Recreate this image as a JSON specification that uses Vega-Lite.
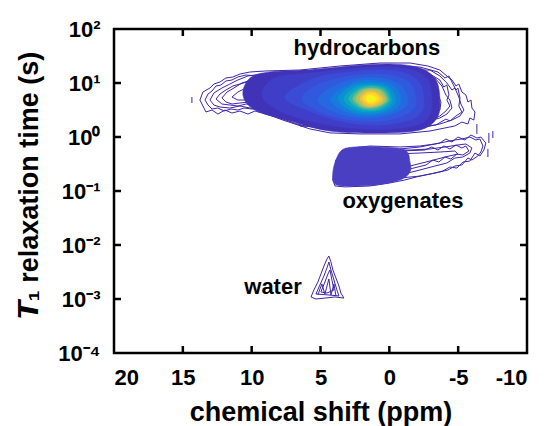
{
  "$schema": "https://vega.github.io/schema/vega-lite/v6.json",
  "width": 413,
  "height": 324,
  "autosize": {"type": "none"},
  "padding": {"left": 114, "top": 29, "right": 17, "bottom": 73},
  "background": "white",
  "datasets": {
    "fills": [
      {"g":"h01","lev":1,"k":0,"ppm":-3.67,"t1":4.84},{"g":"h01","lev":1,"k":1,"ppm":-3.38,"t1":11.37},{"g":"h01","lev":1,"k":2,"ppm":-2.22,"t1":18.95},{"g":"h01","lev":1,"k":3,"ppm":-0.04,"t1":22.48},{"g":"h01","lev":1,"k":4,"ppm":2.86,"t1":20.64},{"g":"h01","lev":1,"k":5,"ppm":5.77,"t1":17.4},{"g":"h01","lev":1,"k":6,"ppm":8.67,"t1":15.98},{"g":"h01","lev":1,"k":7,"ppm":10.12,"t1":12.38},{"g":"h01","lev":1,"k":8,"ppm":10.63,"t1":5.99},{"g":"h01","lev":1,"k":9,"ppm":9.76,"t1":3.16},{"g":"h01","lev":1,"k":10,"ppm":7.22,"t1":1.98},{"g":"h01","lev":1,"k":11,"ppm":4.31,"t1":1.29},{"g":"h01","lev":1,"k":12,"ppm":0.68,"t1":1.19},{"g":"h01","lev":1,"k":13,"ppm":-2.22,"t1":1.35},{"g":"h01","lev":1,"k":14,"ppm":-3.46,"t1":2.25},
      {"g":"h02","lev":2,"k":0,"ppm":-3.09,"t1":4.84},{"g":"h02","lev":2,"k":1,"ppm":-2.8,"t1":11.37},{"g":"h02","lev":2,"k":2,"ppm":-1.64,"t1":17.4},{"g":"h02","lev":2,"k":3,"ppm":0.32,"t1":19.78},{"g":"h02","lev":2,"k":4,"ppm":2.86,"t1":18.16},{"g":"h02","lev":2,"k":5,"ppm":5.77,"t1":15.31},{"g":"h02","lev":2,"k":6,"ppm":8.31,"t1":12.38},{"g":"h02","lev":2,"k":7,"ppm":9.25,"t1":5.99},{"g":"h02","lev":2,"k":8,"ppm":8.09,"t1":3.16},{"g":"h02","lev":2,"k":9,"ppm":5.77,"t1":1.98},{"g":"h02","lev":2,"k":10,"ppm":2.86,"t1":1.47},{"g":"h02","lev":2,"k":11,"ppm":-0.04,"t1":1.41},{"g":"h02","lev":2,"k":12,"ppm":-2.22,"t1":1.74},{"g":"h02","lev":2,"k":13,"ppm":-2.95,"t1":2.66},
      {"g":"h03","lev":3,"k":0,"ppm":-2.51,"t1":4.84},{"g":"h03","lev":3,"k":1,"ppm":-2.22,"t1":10.0},{"g":"h03","lev":3,"k":2,"ppm":-1.13,"t1":15.31},{"g":"h03","lev":3,"k":3,"ppm":0.68,"t1":17.4},{"g":"h03","lev":3,"k":4,"ppm":2.86,"t1":15.98},{"g":"h03","lev":3,"k":5,"ppm":5.4,"t1":12.38},{"g":"h03","lev":3,"k":6,"ppm":7.58,"t1":5.5},{"g":"h03","lev":3,"k":7,"ppm":5.62,"t1":2.9},{"g":"h03","lev":3,"k":8,"ppm":3.23,"t1":1.89},{"g":"h03","lev":3,"k":9,"ppm":0.68,"t1":1.67},{"g":"h03","lev":3,"k":10,"ppm":-1.5,"t1":2.06},{"g":"h03","lev":3,"k":11,"ppm":-2.37,"t1":3.03},
      {"g":"h04","lev":4,"k":0,"ppm":-1.93,"t1":4.84},{"g":"h04","lev":4,"k":1,"ppm":-1.57,"t1":9.58},{"g":"h04","lev":4,"k":2,"ppm":-0.41,"t1":13.48},{"g":"h04","lev":4,"k":3,"ppm":1.41,"t1":14.67},{"g":"h04","lev":4,"k":4,"ppm":3.59,"t1":12.38},{"g":"h04","lev":4,"k":5,"ppm":5.4,"t1":8.8},{"g":"h04","lev":4,"k":6,"ppm":6.35,"t1":5.05},{"g":"h04","lev":4,"k":7,"ppm":5.04,"t1":2.9},{"g":"h04","lev":4,"k":8,"ppm":2.86,"t1":2.06},{"g":"h04","lev":4,"k":9,"ppm":0.47,"t1":1.98},{"g":"h04","lev":4,"k":10,"ppm":-1.13,"t1":2.55},{"g":"h04","lev":4,"k":11,"ppm":-1.79,"t1":3.44},
      {"g":"h05","lev":5,"k":0,"ppm":-1.35,"t1":4.84},{"g":"h05","lev":5,"k":1,"ppm":-0.91,"t1":8.8},{"g":"h05","lev":5,"k":2,"ppm":0.32,"t1":11.86},{"g":"h05","lev":5,"k":3,"ppm":1.99,"t1":12.38},{"g":"h05","lev":5,"k":4,"ppm":3.73,"t1":9.58},{"g":"h05","lev":5,"k":5,"ppm":5.19,"t1":4.84},{"g":"h05","lev":5,"k":6,"ppm":3.59,"t1":2.66},{"g":"h05","lev":5,"k":7,"ppm":1.41,"t1":2.25},{"g":"h05","lev":5,"k":8,"ppm":-0.41,"t1":2.78},{"g":"h05","lev":5,"k":9,"ppm":-1.13,"t1":3.59},
      {"g":"h06","lev":6,"k":0,"ppm":-0.84,"t1":5.05},{"g":"h06","lev":6,"k":1,"ppm":-0.33,"t1":8.8},{"g":"h06","lev":6,"k":2,"ppm":0.83,"t1":10.89},{"g":"h06","lev":6,"k":3,"ppm":2.5,"t1":10.44},{"g":"h06","lev":6,"k":4,"ppm":4.31,"t1":5.05},{"g":"h06","lev":6,"k":5,"ppm":2.72,"t1":2.66},{"g":"h06","lev":6,"k":6,"ppm":0.83,"t1":2.55},{"g":"h06","lev":6,"k":7,"ppm":-0.48,"t1":3.3},
      {"g":"h07","lev":7,"k":0,"ppm":-0.48,"t1":5.05},{"g":"h07","lev":7,"k":1,"ppm":0.03,"t1":8.43},{"g":"h07","lev":7,"k":2,"ppm":1.19,"t1":10.0},{"g":"h07","lev":7,"k":3,"ppm":2.72,"t1":8.8},{"g":"h07","lev":7,"k":4,"ppm":3.73,"t1":5.05},{"g":"h07","lev":7,"k":5,"ppm":2.57,"t1":2.9},{"g":"h07","lev":7,"k":6,"ppm":0.83,"t1":2.78},{"g":"h07","lev":7,"k":7,"ppm":-0.19,"t1":3.59},
      {"g":"h08","lev":8,"k":0,"ppm":-0.19,"t1":5.05},{"g":"h08","lev":8,"k":1,"ppm":0.25,"t1":8.08},{"g":"h08","lev":8,"k":2,"ppm":1.34,"t1":9.18},{"g":"h08","lev":8,"k":3,"ppm":2.5,"t1":8.08},{"g":"h08","lev":8,"k":4,"ppm":3.3,"t1":5.05},{"g":"h08","lev":8,"k":5,"ppm":2.35,"t1":3.16},{"g":"h08","lev":8,"k":6,"ppm":0.97,"t1":3.03},{"g":"h08","lev":8,"k":7,"ppm":0.03,"t1":3.75},
      {"g":"h09","lev":9,"k":0,"ppm":-0.04,"t1":5.05},{"g":"h09","lev":9,"k":1,"ppm":0.39,"t1":7.74},{"g":"h09","lev":9,"k":2,"ppm":1.41,"t1":8.8},{"g":"h09","lev":9,"k":3,"ppm":2.35,"t1":7.42},{"g":"h09","lev":9,"k":4,"ppm":2.94,"t1":5.05},{"g":"h09","lev":9,"k":5,"ppm":2.21,"t1":3.44},{"g":"h09","lev":9,"k":6,"ppm":1.04,"t1":3.16},{"g":"h09","lev":9,"k":7,"ppm":0.25,"t1":3.91},
      {"g":"h10","lev":10,"k":0,"ppm":0.1,"t1":5.05},{"g":"h10","lev":10,"k":1,"ppm":0.54,"t1":7.42},{"g":"h10","lev":10,"k":2,"ppm":1.41,"t1":8.08},{"g":"h10","lev":10,"k":3,"ppm":2.21,"t1":7.11},{"g":"h10","lev":10,"k":4,"ppm":2.64,"t1":5.05},{"g":"h10","lev":10,"k":5,"ppm":2.06,"t1":3.59},{"g":"h10","lev":10,"k":6,"ppm":1.12,"t1":3.44},{"g":"h10","lev":10,"k":7,"ppm":0.39,"t1":4.08},
      {"g":"h11","lev":11,"k":0,"ppm":0.25,"t1":5.05},{"g":"h11","lev":11,"k":1,"ppm":0.68,"t1":7.11},{"g":"h11","lev":11,"k":2,"ppm":1.41,"t1":7.74},{"g":"h11","lev":11,"k":3,"ppm":2.06,"t1":6.81},{"g":"h11","lev":11,"k":4,"ppm":2.43,"t1":5.05},{"g":"h11","lev":11,"k":5,"ppm":1.92,"t1":3.75},{"g":"h11","lev":11,"k":6,"ppm":1.19,"t1":3.59},{"g":"h11","lev":11,"k":7,"ppm":0.54,"t1":4.08},
      {"g":"h12","lev":12,"k":0,"ppm":0.47,"t1":5.05},{"g":"h12","lev":12,"k":1,"ppm":0.83,"t1":6.53},{"g":"h12","lev":12,"k":2,"ppm":1.41,"t1":7.11},{"g":"h12","lev":12,"k":3,"ppm":1.92,"t1":6.26},{"g":"h12","lev":12,"k":4,"ppm":2.14,"t1":5.05},{"g":"h12","lev":12,"k":5,"ppm":1.77,"t1":3.91},{"g":"h12","lev":12,"k":6,"ppm":1.26,"t1":3.75},{"g":"h12","lev":12,"k":7,"ppm":0.68,"t1":4.26},
      {"g":"h13","lev":13,"k":0,"ppm":0.68,"t1":5.05},{"g":"h13","lev":13,"k":1,"ppm":0.97,"t1":6.26},{"g":"h13","lev":13,"k":2,"ppm":1.41,"t1":6.53},{"g":"h13","lev":13,"k":3,"ppm":1.77,"t1":5.99},{"g":"h13","lev":13,"k":4,"ppm":1.92,"t1":5.05},{"g":"h13","lev":13,"k":5,"ppm":1.63,"t1":4.26},{"g":"h13","lev":13,"k":6,"ppm":1.26,"t1":4.08},{"g":"h13","lev":13,"k":7,"ppm":0.9,"t1":4.45},
      {"g":"h14","lev":14,"k":0,"ppm":0.9,"t1":5.05},{"g":"h14","lev":14,"k":1,"ppm":1.12,"t1":5.74},{"g":"h14","lev":14,"k":2,"ppm":1.41,"t1":5.99},{"g":"h14","lev":14,"k":3,"ppm":1.63,"t1":5.74},{"g":"h14","lev":14,"k":4,"ppm":1.7,"t1":5.05},{"g":"h14","lev":14,"k":5,"ppm":1.56,"t1":4.45},{"g":"h14","lev":14,"k":6,"ppm":1.34,"t1":4.45},{"g":"h14","lev":14,"k":7,"ppm":1.04,"t1":4.64},
      {"g":"o01","lev":0,"k":0,"ppm":-1.5,"t1":0.344},{"g":"o01","lev":0,"k":1,"ppm":-1.13,"t1":0.574},{"g":"o01","lev":0,"k":2,"ppm":0.68,"t1":0.653},{"g":"o01","lev":0,"k":3,"ppm":2.5,"t1":0.653},{"g":"o01","lev":0,"k":4,"ppm":3.44,"t1":0.574},{"g":"o01","lev":0,"k":5,"ppm":3.88,"t1":0.375},{"g":"o01","lev":0,"k":6,"ppm":4.1,"t1":0.225},{"g":"o01","lev":0,"k":7,"ppm":4.02,"t1":0.141},{"g":"o01","lev":0,"k":8,"ppm":3.23,"t1":0.124},{"g":"o01","lev":0,"k":9,"ppm":1.04,"t1":0.129},{"g":"o01","lev":0,"k":10,"ppm":-0.77,"t1":0.16},{"g":"o01","lev":0,"k":11,"ppm":-1.5,"t1":0.225}
    ],
    "lines": [
      {"g":"r1","k":0,"ppm":13.76,"t1":4.84},{"g":"r1","k":1,"ppm":13.54,"t1":6.81},{"g":"r1","k":2,"ppm":13.03,"t1":8.08},{"g":"r1","k":3,"ppm":12.74,"t1":9.58},{"g":"r1","k":4,"ppm":12.3,"t1":10.44},{"g":"r1","k":5,"ppm":11.87,"t1":12.38},{"g":"r1","k":6,"ppm":11.36,"t1":12.92},{"g":"r1","k":7,"ppm":10.85,"t1":14.67},{"g":"r1","k":8,"ppm":10.12,"t1":15.98},{"g":"r1","k":9,"ppm":9.04,"t1":16.68},{"g":"r1","k":10,"ppm":6.49,"t1":17.4},{"g":"r1","k":11,"ppm":3.59,"t1":20.64},{"g":"r1","k":12,"ppm":0.68,"t1":23.46},{"g":"r1","k":13,"ppm":-1.5,"t1":23.46},{"g":"r1","k":14,"ppm":-2.8,"t1":20.64},{"g":"r1","k":15,"ppm":-3.67,"t1":17.4},{"g":"r1","k":16,"ppm":-4.18,"t1":13.48},{"g":"r1","k":17,"ppm":-4.55,"t1":11.37},{"g":"r1","k":18,"ppm":-4.84,"t1":8.8},{"g":"r1","k":19,"ppm":-5.05,"t1":9.58},{"g":"r1","k":20,"ppm":-5.27,"t1":6.81},{"g":"r1","k":21,"ppm":-5.56,"t1":5.99},{"g":"r1","k":22,"ppm":-5.71,"t1":4.45},{"g":"r1","k":23,"ppm":-5.93,"t1":4.84},{"g":"r1","k":24,"ppm":-6.0,"t1":3.44},{"g":"r1","k":25,"ppm":-6.22,"t1":2.9},{"g":"r1","k":26,"ppm":-6.14,"t1":2.06},{"g":"r1","k":27,"ppm":-5.85,"t1":2.25},{"g":"r1","k":28,"ppm":-5.71,"t1":1.74},{"g":"r1","k":29,"ppm":-5.27,"t1":1.89},{"g":"r1","k":30,"ppm":-4.76,"t1":1.6},{"g":"r1","k":31,"ppm":-4.04,"t1":1.47},{"g":"r1","k":32,"ppm":-2.95,"t1":1.29},{"g":"r1","k":33,"ppm":-0.77,"t1":1.14},{"g":"r1","k":34,"ppm":2.14,"t1":1.14},{"g":"r1","k":35,"ppm":4.31,"t1":1.19},{"g":"r1","k":36,"ppm":5.77,"t1":1.41},{"g":"r1","k":37,"ppm":6.86,"t1":1.74},{"g":"r1","k":38,"ppm":7.73,"t1":2.06},{"g":"r1","k":39,"ppm":8.53,"t1":2.45},{"g":"r1","k":40,"ppm":9.25,"t1":2.78},{"g":"r1","k":41,"ppm":9.76,"t1":3.03},{"g":"r1","k":42,"ppm":10.27,"t1":2.66},{"g":"r1","k":43,"ppm":10.85,"t1":3.03},{"g":"r1","k":44,"ppm":11.43,"t1":2.78},{"g":"r1","k":45,"ppm":11.94,"t1":3.16},{"g":"r1","k":46,"ppm":12.45,"t1":2.66},{"g":"r1","k":47,"ppm":12.88,"t1":3.16},{"g":"r1","k":48,"ppm":13.32,"t1":2.9},{"g":"r1","k":49,"ppm":13.54,"t1":3.75},{"g":"r1","k":50,"ppm":13.76,"t1":4.84},
      {"g":"r2","k":0,"ppm":13.03,"t1":4.84},{"g":"r2","k":1,"ppm":12.74,"t1":6.53},{"g":"r2","k":2,"ppm":12.16,"t1":8.08},{"g":"r2","k":3,"ppm":11.58,"t1":9.58},{"g":"r2","k":4,"ppm":11.0,"t1":11.37},{"g":"r2","k":5,"ppm":10.27,"t1":13.48},{"g":"r2","k":6,"ppm":9.25,"t1":14.67},{"g":"r2","k":7,"ppm":6.49,"t1":15.98},{"g":"r2","k":8,"ppm":-2.95,"t1":17.4},{"g":"r2","k":9,"ppm":-3.67,"t1":13.48},{"g":"r2","k":10,"ppm":-4.18,"t1":10.0},{"g":"r2","k":11,"ppm":-4.55,"t1":7.42},{"g":"r2","k":12,"ppm":-4.76,"t1":8.08},{"g":"r2","k":13,"ppm":-5.05,"t1":5.5},{"g":"r2","k":14,"ppm":-5.2,"t1":4.08},{"g":"r2","k":15,"ppm":-5.42,"t1":3.16},{"g":"r2","k":16,"ppm":-5.13,"t1":2.45},{"g":"r2","k":17,"ppm":-4.55,"t1":2.06},{"g":"r2","k":18,"ppm":-3.67,"t1":1.74},{"g":"r2","k":19,"ppm":-2.22,"t1":1.47},{"g":"r2","k":20,"ppm":0.68,"t1":1.29},{"g":"r2","k":21,"ppm":4.31,"t1":1.35},{"g":"r2","k":22,"ppm":6.49,"t1":1.67},{"g":"r2","k":23,"ppm":7.95,"t1":2.25},{"g":"r2","k":24,"ppm":9.25,"t1":3.16},{"g":"r2","k":25,"ppm":10.12,"t1":3.44},{"g":"r2","k":26,"ppm":10.85,"t1":3.75},{"g":"r2","k":27,"ppm":11.58,"t1":3.44},{"g":"r2","k":28,"ppm":12.3,"t1":3.59},{"g":"r2","k":29,"ppm":12.74,"t1":3.91},{"g":"r2","k":30,"ppm":13.03,"t1":4.84},
      {"g":"r3","k":0,"ppm":12.16,"t1":5.27},{"g":"r3","k":1,"ppm":11.79,"t1":6.81},{"g":"r3","k":2,"ppm":11.29,"t1":8.08},{"g":"r3","k":3,"ppm":10.71,"t1":10.0},{"g":"r3","k":4,"ppm":9.98,"t1":11.37},{"g":"r3","k":5,"ppm":9.04,"t1":12.92},{"g":"r3","k":6,"ppm":-3.31,"t1":12.38},{"g":"r3","k":7,"ppm":-3.82,"t1":8.8},{"g":"r3","k":8,"ppm":-4.11,"t1":5.99},{"g":"r3","k":9,"ppm":-4.4,"t1":4.84},{"g":"r3","k":10,"ppm":-4.55,"t1":3.44},{"g":"r3","k":11,"ppm":-4.18,"t1":2.66},{"g":"r3","k":12,"ppm":-3.67,"t1":2.25},{"g":"r3","k":13,"ppm":-2.58,"t1":1.89},{"g":"r3","k":14,"ppm":9.25,"t1":4.08},{"g":"r3","k":15,"ppm":10.12,"t1":4.45},{"g":"r3","k":16,"ppm":10.85,"t1":4.26},{"g":"r3","k":17,"ppm":11.43,"t1":4.08},{"g":"r3","k":18,"ppm":11.87,"t1":4.45},{"g":"r3","k":19,"ppm":12.16,"t1":5.27},
      {"g":"r4","k":0,"ppm":11.43,"t1":5.5},{"g":"r4","k":1,"ppm":11.0,"t1":6.81},{"g":"r4","k":2,"ppm":10.41,"t1":8.08},{"g":"r4","k":3,"ppm":9.69,"t1":9.18},{"g":"r4","k":4,"ppm":8.67,"t1":10.44},{"g":"r4","k":5,"ppm":-3.09,"t1":8.8},{"g":"r4","k":6,"ppm":-3.53,"t1":6.26},{"g":"r4","k":7,"ppm":-3.75,"t1":4.45},{"g":"r4","k":8,"ppm":-3.67,"t1":3.16},{"g":"r4","k":9,"ppm":-3.24,"t1":2.55},{"g":"r4","k":10,"ppm":8.67,"t1":4.84},{"g":"r4","k":11,"ppm":9.76,"t1":5.05},{"g":"r4","k":12,"ppm":10.49,"t1":4.84},{"g":"r4","k":13,"ppm":11.0,"t1":4.84},{"g":"r4","k":14,"ppm":11.43,"t1":5.5},
      {"g":"r5","k":0,"ppm":6.49,"t1":16.68},{"g":"r5","k":1,"ppm":0.68,"t1":20.64},{"g":"r5","k":2,"ppm":-2.22,"t1":19.78},{"g":"r5","k":3,"ppm":-3.53,"t1":15.98},{"g":"r5","k":4,"ppm":-4.04,"t1":12.38},{"g":"r5","k":5,"ppm":-4.33,"t1":13.48},{"g":"r5","k":6,"ppm":-4.62,"t1":9.58},{"g":"r5","k":7,"ppm":-4.84,"t1":7.42},{"g":"r5","k":8,"ppm":-4.98,"t1":8.08},{"g":"r5","k":9,"ppm":-5.13,"t1":5.27},{"g":"r5","k":10,"ppm":-5.05,"t1":3.75},{"g":"r5","k":11,"ppm":-5.27,"t1":2.9},{"g":"r5","k":12,"ppm":-4.84,"t1":2.45},{"g":"r5","k":13,"ppm":-4.4,"t1":1.98},{"g":"r5","k":14,"ppm":-4.11,"t1":2.15},{"g":"r5","k":15,"ppm":-3.38,"t1":1.67},{"g":"r5","k":16,"ppm":-0.77,"t1":1.35},{"g":"r5","k":17,"ppm":6.49,"t1":1.6},{"g":"r5","k":18,"ppm":6.49,"t1":16.68},
      {"g":"r6","k":0,"ppm":6.49,"t1":14.67},{"g":"r6","k":1,"ppm":-2.95,"t1":14.67},{"g":"r6","k":2,"ppm":-3.67,"t1":11.37},{"g":"r6","k":3,"ppm":-3.96,"t1":8.43},{"g":"r6","k":4,"ppm":-4.18,"t1":9.18},{"g":"r6","k":5,"ppm":-4.33,"t1":5.99},{"g":"r6","k":6,"ppm":-4.18,"t1":4.84},{"g":"r6","k":7,"ppm":-4.4,"t1":3.75},{"g":"r6","k":8,"ppm":-4.11,"t1":3.03},{"g":"r6","k":9,"ppm":-3.67,"t1":2.45},{"g":"r6","k":10,"ppm":-3.09,"t1":2.06},{"g":"r6","k":11,"ppm":6.49,"t1":1.89},
      {"g":"r7","k":0,"ppm":13.39,"t1":4.84},{"g":"r7","k":1,"ppm":13.17,"t1":6.26},{"g":"r7","k":2,"ppm":12.88,"t1":7.11},{"g":"r7","k":3,"ppm":12.59,"t1":8.8},{"g":"r7","k":4,"ppm":12.23,"t1":9.18},{"g":"r7","k":5,"ppm":11.87,"t1":10.89},{"g":"r7","k":6,"ppm":11.43,"t1":11.37},{"g":"r7","k":7,"ppm":11.0,"t1":12.92},{"g":"r7","k":8,"ppm":10.41,"t1":14.07},{"g":"r7","k":9,"ppm":6.49,"t1":11.37},{"g":"r7","k":10,"ppm":6.49,"t1":3.44},{"g":"r7","k":11,"ppm":9.98,"t1":3.3},{"g":"r7","k":12,"ppm":10.56,"t1":3.44},{"g":"r7","k":13,"ppm":11.0,"t1":3.16},{"g":"r7","k":14,"ppm":11.5,"t1":3.3},{"g":"r7","k":15,"ppm":12.01,"t1":3.03},{"g":"r7","k":16,"ppm":12.45,"t1":3.44},{"g":"r7","k":17,"ppm":12.88,"t1":3.3},{"g":"r7","k":18,"ppm":13.17,"t1":3.91},{"g":"r7","k":19,"ppm":13.39,"t1":4.84},
      {"g":"r8","k":0,"ppm":12.59,"t1":5.05},{"g":"r8","k":1,"ppm":12.3,"t1":6.26},{"g":"r8","k":2,"ppm":11.87,"t1":7.42},{"g":"r8","k":3,"ppm":11.36,"t1":8.8},{"g":"r8","k":4,"ppm":10.85,"t1":9.58},{"g":"r8","k":5,"ppm":10.12,"t1":10.89},{"g":"r8","k":6,"ppm":6.49,"t1":9.18},{"g":"r8","k":7,"ppm":6.49,"t1":4.08},{"g":"r8","k":8,"ppm":9.76,"t1":3.91},{"g":"r8","k":9,"ppm":10.41,"t1":4.08},{"g":"r8","k":10,"ppm":11.0,"t1":3.75},{"g":"r8","k":11,"ppm":11.58,"t1":3.91},{"g":"r8","k":12,"ppm":12.16,"t1":4.08},{"g":"r8","k":13,"ppm":12.59,"t1":5.05},
      {"g":"d1","k":0,"ppm":14.34,"t1":5.5},{"g":"d1","k":1,"ppm":14.34,"t1":4.26},
      {"g":"d3","k":0,"ppm":-6.36,"t1":1.74},{"g":"d3","k":1,"ppm":-6.36,"t1":1.14},
      {"g":"d4","k":0,"ppm":-7.23,"t1":1.19},{"g":"d4","k":1,"ppm":-7.23,"t1":0.774},
      {"g":"d5","k":0,"ppm":-7.52,"t1":1.29},{"g":"d5","k":1,"ppm":-7.52,"t1":0.957},
      {"g":"d6","k":0,"ppm":-7.16,"t1":0.6},{"g":"d6","k":1,"ppm":-7.16,"t1":0.426},
      {"g":"o1","k":0,"ppm":4.1,"t1":0.16},{"g":"o1","k":1,"ppm":3.88,"t1":0.375},{"g":"o1","k":2,"ppm":3.23,"t1":0.6},{"g":"o1","k":3,"ppm":1.41,"t1":0.681},{"g":"o1","k":4,"ppm":-0.77,"t1":0.653},{"g":"o1","k":5,"ppm":-2.22,"t1":0.681},{"g":"o1","k":6,"ppm":-3.31,"t1":0.742},{"g":"o1","k":7,"ppm":-4.04,"t1":0.808},{"g":"o1","k":8,"ppm":-4.76,"t1":0.88},{"g":"o1","k":9,"ppm":-5.27,"t1":0.918},{"g":"o1","k":10,"ppm":-5.85,"t1":0.998},{"g":"o1","k":11,"ppm":-6.29,"t1":0.88},{"g":"o1","k":12,"ppm":-6.58,"t1":0.918},{"g":"o1","k":13,"ppm":-6.8,"t1":0.681},{"g":"o1","k":14,"ppm":-6.65,"t1":0.527},{"g":"o1","k":15,"ppm":-6.43,"t1":0.445},{"g":"o1","k":16,"ppm":-6.0,"t1":0.375},{"g":"o1","k":17,"ppm":-5.71,"t1":0.408},{"g":"o1","k":18,"ppm":-5.27,"t1":0.303},{"g":"o1","k":19,"ppm":-4.76,"t1":0.29},{"g":"o1","k":20,"ppm":-4.26,"t1":0.245},{"g":"o1","k":21,"ppm":-3.67,"t1":0.225},{"g":"o1","k":22,"ppm":-2.95,"t1":0.206},{"g":"o1","k":23,"ppm":-2.22,"t1":0.189},{"g":"o1","k":24,"ppm":-1.13,"t1":0.16},{"g":"o1","k":25,"ppm":-0.04,"t1":0.141},{"g":"o1","k":26,"ppm":1.41,"t1":0.124},{"g":"o1","k":27,"ppm":3.23,"t1":0.119},{"g":"o1","k":28,"ppm":3.95,"t1":0.124},{"g":"o1","k":29,"ppm":4.1,"t1":0.16},
      {"g":"o2","k":0,"ppm":3.23,"t1":0.245},{"g":"o2","k":1,"ppm":2.86,"t1":0.464},{"g":"o2","k":2,"ppm":0.68,"t1":0.574},{"g":"o2","k":3,"ppm":-1.5,"t1":0.574},{"g":"o2","k":4,"ppm":-2.95,"t1":0.6},{"g":"o2","k":5,"ppm":-4.04,"t1":0.653},{"g":"o2","k":6,"ppm":-4.98,"t1":0.711},{"g":"o2","k":7,"ppm":-5.56,"t1":0.742},{"g":"o2","k":8,"ppm":-6.0,"t1":0.626},{"g":"o2","k":9,"ppm":-5.85,"t1":0.505},{"g":"o2","k":10,"ppm":-5.34,"t1":0.426},{"g":"o2","k":11,"ppm":-4.76,"t1":0.408},{"g":"o2","k":12,"ppm":-4.18,"t1":0.33},{"g":"o2","k":13,"ppm":-3.31,"t1":0.29},{"g":"o2","k":14,"ppm":-2.22,"t1":0.245},{"g":"o2","k":15,"ppm":-0.77,"t1":0.198},{"g":"o2","k":16,"ppm":1.04,"t1":0.174},{"g":"o2","k":17,"ppm":2.5,"t1":0.174},{"g":"o2","k":18,"ppm":3.23,"t1":0.245},
      {"g":"o3","k":0,"ppm":2.14,"t1":0.303},{"g":"o3","k":1,"ppm":1.41,"t1":0.464},{"g":"o3","k":2,"ppm":-2.22,"t1":0.505},{"g":"o3","k":3,"ppm":-3.67,"t1":0.527},{"g":"o3","k":4,"ppm":-4.76,"t1":0.55},{"g":"o3","k":5,"ppm":-4.98,"t1":0.484},{"g":"o3","k":6,"ppm":-4.04,"t1":0.426},{"g":"o3","k":7,"ppm":-2.95,"t1":0.359},{"g":"o3","k":8,"ppm":-1.5,"t1":0.29},{"g":"o3","k":9,"ppm":0.68,"t1":0.245},{"g":"o3","k":10,"ppm":2.14,"t1":0.303},
      {"g":"o4","k":0,"ppm":-0.77,"t1":0.55},{"g":"o4","k":1,"ppm":-2.58,"t1":0.574},{"g":"o4","k":2,"ppm":-3.09,"t1":0.653},{"g":"o4","k":3,"ppm":-3.53,"t1":0.574},{"g":"o4","k":4,"ppm":-3.96,"t1":0.681},{"g":"o4","k":5,"ppm":-4.4,"t1":0.6},{"g":"o4","k":6,"ppm":-4.84,"t1":0.711},{"g":"o4","k":7,"ppm":-5.27,"t1":0.626},{"g":"o4","k":8,"ppm":-5.56,"t1":0.681},{"g":"o4","k":9,"ppm":-5.78,"t1":0.55},{"g":"o4","k":10,"ppm":-5.34,"t1":0.464},{"g":"o4","k":11,"ppm":-4.91,"t1":0.484},{"g":"o4","k":12,"ppm":-4.47,"t1":0.391},{"g":"o4","k":13,"ppm":-4.04,"t1":0.426},{"g":"o4","k":14,"ppm":-3.6,"t1":0.344},{"g":"o4","k":15,"ppm":-3.17,"t1":0.375},{"g":"o4","k":16,"ppm":-2.66,"t1":0.303},{"g":"o4","k":17,"ppm":-1.5,"t1":0.256},{"g":"o4","k":18,"ppm":-0.77,"t1":0.245},{"g":"o4","k":19,"ppm":-0.77,"t1":0.55},
      {"g":"o5","k":0,"ppm":-0.77,"t1":0.6},{"g":"o5","k":1,"ppm":-2.22,"t1":0.653},{"g":"o5","k":2,"ppm":-3.67,"t1":0.774},{"g":"o5","k":3,"ppm":-4.11,"t1":0.918},{"g":"o5","k":4,"ppm":-4.55,"t1":0.808},{"g":"o5","k":5,"ppm":-4.98,"t1":0.998},{"g":"o5","k":6,"ppm":-5.49,"t1":0.88},{"g":"o5","k":7,"ppm":-5.93,"t1":1.089},{"g":"o5","k":8,"ppm":-6.36,"t1":0.957},{"g":"o5","k":9,"ppm":-6.65,"t1":0.998},{"g":"o5","k":10,"ppm":-7.01,"t1":0.774},{"g":"o5","k":11,"ppm":-6.87,"t1":0.574},{"g":"o5","k":12,"ppm":-6.58,"t1":0.445},{"g":"o5","k":13,"ppm":-6.22,"t1":0.505},{"g":"o5","k":14,"ppm":-5.85,"t1":0.359},{"g":"o5","k":15,"ppm":-5.34,"t1":0.344},{"g":"o5","k":16,"ppm":-4.91,"t1":0.266},{"g":"o5","k":17,"ppm":-4.4,"t1":0.278},{"g":"o5","k":18,"ppm":-3.89,"t1":0.235},{"g":"o5","k":19,"ppm":-3.31,"t1":0.215},{"g":"o5","k":20,"ppm":-2.22,"t1":0.189},{"g":"o5","k":21,"ppm":-0.77,"t1":0.174},
      {"g":"w1","k":0,"ppm":5.69,"t1":0.00109},{"g":"w1","k":1,"ppm":5.48,"t1":0.00147},{"g":"w1","k":2,"ppm":5.19,"t1":0.00206},{"g":"w1","k":3,"ppm":4.97,"t1":0.0029},{"g":"w1","k":4,"ppm":4.75,"t1":0.00408},{"g":"w1","k":5,"ppm":4.53,"t1":0.00551},{"g":"w1","k":6,"ppm":4.39,"t1":0.00626},{"g":"w1","k":7,"ppm":4.24,"t1":0.00484},{"g":"w1","k":8,"ppm":4.1,"t1":0.00344},{"g":"w1","k":9,"ppm":3.88,"t1":0.00245},{"g":"w1","k":10,"ppm":3.66,"t1":0.00174},{"g":"w1","k":11,"ppm":3.52,"t1":0.00129},{"g":"w1","k":12,"ppm":3.3,"t1":0.00104},{"g":"w1","k":13,"ppm":3.95,"t1":0.00109},{"g":"w1","k":14,"ppm":4.68,"t1":0.00104},{"g":"w1","k":15,"ppm":5.33,"t1":0.001},{"g":"w1","k":16,"ppm":5.69,"t1":0.00109},
      {"g":"w2","k":0,"ppm":5.33,"t1":0.00124},{"g":"w2","k":1,"ppm":5.04,"t1":0.00182},{"g":"w2","k":2,"ppm":4.75,"t1":0.00267},{"g":"w2","k":3,"ppm":4.53,"t1":0.00377},{"g":"w2","k":4,"ppm":4.39,"t1":0.00484},{"g":"w2","k":5,"ppm":4.24,"t1":0.00344},{"g":"w2","k":6,"ppm":4.02,"t1":0.00225},{"g":"w2","k":7,"ppm":3.81,"t1":0.00147},{"g":"w2","k":8,"ppm":3.66,"t1":0.00114},{"g":"w2","k":9,"ppm":4.46,"t1":0.00119},{"g":"w2","k":10,"ppm":5.33,"t1":0.00124},
      {"g":"w3","k":0,"ppm":4.97,"t1":0.00135},{"g":"w3","k":1,"ppm":4.68,"t1":0.00206},{"g":"w3","k":2,"ppm":4.46,"t1":0.0029},{"g":"w3","k":3,"ppm":4.31,"t1":0.00344},{"g":"w3","k":4,"ppm":4.17,"t1":0.00225},{"g":"w3","k":5,"ppm":4.02,"t1":0.00147},{"g":"w3","k":6,"ppm":4.53,"t1":0.00129},{"g":"w3","k":7,"ppm":4.97,"t1":0.00135},
      {"g":"z4","k":0,"ppm":5.19,"t1":0.00119},{"g":"z4","k":1,"ppm":4.9,"t1":0.0019},{"g":"z4","k":2,"ppm":4.68,"t1":0.00124},{"g":"z4","k":3,"ppm":4.39,"t1":0.00235},{"g":"z4","k":4,"ppm":4.24,"t1":0.00119},{"g":"z4","k":5,"ppm":4.02,"t1":0.0019},{"g":"z4","k":6,"ppm":3.88,"t1":0.00114}
    ],
    "labels": [
      {"name":"hydrocarbons","ppm":1.63,"t1":44.5},
      {"name":"oxygenates","ppm":-0.99,"t1":0.0653},
      {"name":"water","ppm":8.45,"t1":0.00167}
    ],
    "xticks": [
      {"ppm":15,"t1":0.0001},{"ppm":10,"t1":0.0001},{"ppm":5,"t1":0.0001},{"ppm":0,"t1":0.0001},{"ppm":-5,"t1":0.0001},
      {"ppm":15,"t1":100},{"ppm":10,"t1":100},{"ppm":5,"t1":100},{"ppm":0,"t1":100},{"ppm":-5,"t1":100}
    ],
    "yticks": [
      {"ppm":20,"t1":10},{"ppm":20,"t1":1},{"ppm":20,"t1":0.1},{"ppm":20,"t1":0.01},{"ppm":20,"t1":0.001},
      {"ppm":-10,"t1":10},{"ppm":-10,"t1":1},{"ppm":-10,"t1":0.1},{"ppm":-10,"t1":0.01},{"ppm":-10,"t1":0.001}
    ]
  },
  "layer": [
    {
      "data": {"name": "lines"},
      "mark": {"type": "line", "interpolate": "linear", "stroke": "#3e26a8", "strokeWidth": 1, "strokeJoin": "round"},
      "encoding": {
        "x": {"field": "ppm", "type": "quantitative", "scale": {"domain": [20, -10], "nice": false, "zero": false},
              "axis": {"orient": "bottom", "values": [20, 15, 10, 5, 0, -5, -10], "title": "chemical shift (ppm)",
                       "ticks": false, "labelPadding": 14,
                       "labelExpr": "replace(datum.label, '−', '-')", "titleY": 67, "titleBaseline": "alphabetic"}},
        "y": {"field": "t1", "type": "quantitative", "scale": {"type": "log", "domain": [0.0001, 100], "nice": false},
              "axis": {"orient": "left", "values": [0.0001, 0.001, 0.01, 0.1, 1, 10, 100], "title": "𝙏₁ relaxation time (s)",
                       "ticks": false, "labelPadding": 14,
                       "labelExpr": "datum.value > 50 ? '10²' : datum.value > 5 ? '10¹' : datum.value > 0.5 ? '10⁰' : datum.value > 0.05 ? '10⁻¹' : datum.value > 0.005 ? '10⁻²' : datum.value > 0.0005 ? '10⁻³' : '10⁻⁴'",
                       "titleX": -77, "titleY": 156, "titleAngle": -90, "titleAlign": "center", "titleBaseline": "alphabetic"}},
        "detail": {"field": "g"},
        "order": {"field": "k", "type": "quantitative"}
      }
    },
    {
      "data": {"name": "fills"},
      "mark": {"type": "line", "interpolate": "cardinal-closed", "strokeWidth": 0.6},
      "encoding": {
        "x": {"field": "ppm", "type": "quantitative", "axis": null},
        "y": {"field": "t1", "type": "quantitative", "axis": null},
        "detail": {"field": "g"},
        "order": {"field": "k", "type": "quantitative"},
        "color": {"field": "lev", "type": "ordinal", "legend": null,
                  "scale": {"domain": [0,1,2,3,4,5,6,7,8,9,10,11,12,13,14], "range": ["#4a3fc2","#4033b8","#3f3ec9","#3a4bd6","#3159de","#2469e0","#157bdc","#0b90d2","#0ba6c5","#2fb5a8","#70be86","#b9bd62","#efc140","#fcd62b","#f8f11a"]}},
        "fill": {"field": "lev", "type": "ordinal", "legend": null,
                 "scale": {"domain": [0,1,2,3,4,5,6,7,8,9,10,11,12,13,14], "range": ["#4a3fc2","#4033b8","#3f3ec9","#3a4bd6","#3159de","#2469e0","#157bdc","#0b90d2","#0ba6c5","#2fb5a8","#70be86","#b9bd62","#efc140","#fcd62b","#f8f11a"]}}
      }
    },
    {
      "data": {"name": "xticks"},
      "mark": {"type": "tick", "orient": "vertical", "size": 14, "thickness": 2.5, "color": "black", "opacity": 1, "clip": true},
      "encoding": {
        "x": {"field": "ppm", "type": "quantitative", "axis": null},
        "y": {"field": "t1", "type": "quantitative", "axis": null}
      }
    },
    {
      "data": {"name": "yticks"},
      "mark": {"type": "tick", "orient": "horizontal", "size": 14, "thickness": 2.5, "color": "black", "opacity": 1, "clip": true},
      "encoding": {
        "x": {"field": "ppm", "type": "quantitative", "axis": null},
        "y": {"field": "t1", "type": "quantitative", "axis": null}
      }
    },
    {
      "data": {"name": "labels"},
      "mark": {"type": "text", "font": "Liberation Sans", "fontWeight": "bold", "fontSize": 22, "color": "black", "baseline": "middle", "align": "center"},
      "encoding": {
        "x": {"field": "ppm", "type": "quantitative", "axis": null},
        "y": {"field": "t1", "type": "quantitative", "axis": null},
        "text": {"field": "name"}
      }
    }
  ],
  "resolve": {"axis": {"x": "independent", "y": "independent"}},
  "config": {
    "view": {"stroke": "black", "strokeWidth": 2.5},
    "font": "Liberation Sans",
    "axis": {"domain": false, "grid": false,
             "labelColor": "black", "labelFont": "Liberation Sans", "labelFontSize": 22, "labelFontWeight": "bold",
             "titleColor": "black", "titleFont": "Liberation Sans", "titleFontSize": 27, "titleFontWeight": "bold"}
  }
}
